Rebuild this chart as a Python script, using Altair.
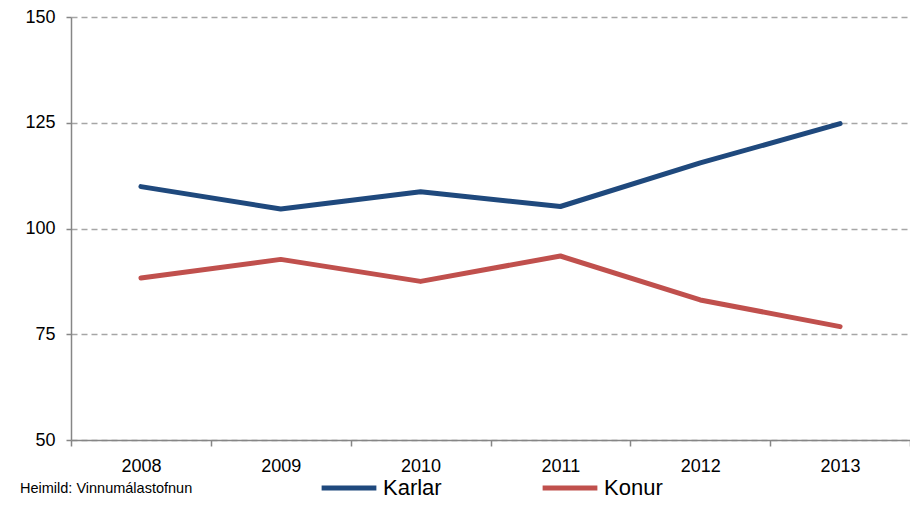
import altair as alt
import pandas as pd

years = ["2008", "2009", "2010", "2011", "2012", "2013"]
karlar = [109.9, 104.6, 108.7, 105.2, 115.5, 124.8]
konur = [88.3, 92.7, 87.5, 93.5, 83.1, 76.8]
series = ["Karlar", "Konur"]
colors = ["#1F497D", "#C0504D"]
y_ticks = [50, 75, 100, 125, 150]
source = "Heimild: Vinnumálastofnun"

rows = []
for name, vals in zip(series, [karlar, konur]):
    for yr, v in zip(years, vals):
        rows.append({"Ár": yr, "Gildi": v, "Hópur": name})
df = pd.DataFrame(rows)

FONT = "Liberation Sans"

chart = (
    alt.Chart(df)
    .mark_line(strokeWidth=5, strokeCap="round", strokeJoin="round")
    .encode(
        x=alt.X(
            "Ár:O",
            sort=years,
            scale=alt.Scale(type="band", paddingInner=0, paddingOuter=0),
            axis=alt.Axis(
                title=None,
                labelAngle=0,
                tickBand="extent",
                tickSize=6,
                tickColor="#868686",
                domainColor="#868686",
                domainWidth=1.5,
                tickWidth=1.5,
                labelFontSize=18,
                labelFont=FONT,
                labelColor="#000000",
                labelPadding=11,
                grid=False,
            ),
        ),
        y=alt.Y(
            "Gildi:Q",
            scale=alt.Scale(domain=[50, 150], nice=False, zero=False),
            axis=alt.Axis(
                title=None,
                values=y_ticks,
                tickSize=5,
                tickColor="#868686",
                domainColor="#868686",
                domainWidth=1.5,
                tickWidth=1.5,
                labelFontSize=18,
                labelFont=FONT,
                labelColor="#000000",
                labelPadding=11,
                grid=True,
                gridDash=[6, 4],
                gridColor="#A6A6A6",
                gridWidth=1.5,
            ),
        ),
        color=alt.Color(
            "Hópur:N",
            scale=alt.Scale(domain=series, range=colors),
            legend=alt.Legend(
                title=source,
                titleOrient="left",
                titleFontSize=14.5,
                titleFont=FONT,
                titleFontWeight="normal",
                titleColor="#000000",
                titlePadding=126,
                titleBaseline="line-top",
                titleLineHeight=20,
                orient="none",
                legendX=-51,
                legendY=441,
                direction="horizontal",
                symbolType="stroke",
                symbolSize=3000,
                symbolStrokeWidth=5,
                labelFontSize=22,
                labelFont=FONT,
                labelColor="#000000",
                labelOffset=4,
                columnPadding=90,
            ),
        ),
    )
    .properties(
        width=839,
        height=423,
        padding={"left": 63, "top": 9, "right": 0, "bottom": 59},
        autosize=alt.AutoSizeParams(type="none"),
    )
    .configure_view(stroke=None)
)

chart.save("out.html", embed_options={"renderer": "svg", "actions": False})
